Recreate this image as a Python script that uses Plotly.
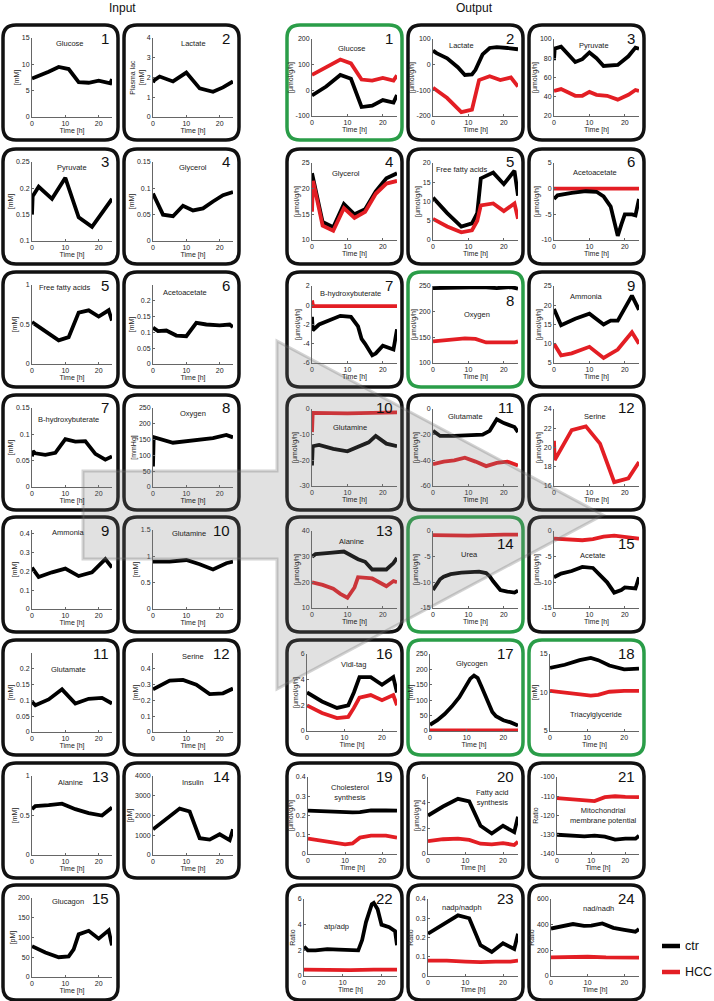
import plotly.graph_objects as go

W, H = 714, 1001
CTR = '#000000'
HCC = '#e31e24'
BOX_BLACK = '#111111'
BOX_GREEN = '#2a9d48'
FONT = 'Arial, Liberation Sans, Helvetica, sans-serif'
UMOL = '[µmol/g/h]'

# ---------------- Input (plasma) data ----------------
i_glucose_t = [0, 3, 5, 8, 11, 14, 17, 20, 23, 23.5, 24]
i_glucose = [7.3, 8.0, 8.6, 9.5, 9.1, 6.6, 6.5, 6.9, 6.4, 6.4, 7.2]
i_lactate_t = [0, 0.3, 2, 6, 10, 14, 18, 21, 24]
i_lactate = [1.75, 1.85, 2.05, 1.8, 2.25, 1.45, 1.28, 1.5, 1.8]
i_pyruvate_t = [0, 0.2, 2, 6, 10, 14, 18, 24]
i_pyruvate = [0.15, 0.185, 0.203, 0.18, 0.22, 0.145, 0.127, 0.18]
i_glycerol_t = [0, 3, 6, 9, 12, 15, 18, 21, 24]
i_glycerol = [0.09, 0.05, 0.047, 0.067, 0.058, 0.062, 0.075, 0.087, 0.093]
i_ffa_t = [0, 4, 8, 11, 14, 17, 20, 23, 24]
i_ffa = [0.53, 0.42, 0.3, 0.34, 0.65, 0.68, 0.6, 0.68, 0.55]
i_acetoacetate_t = [0, 1.5, 4, 7, 10, 13, 16, 20, 23, 24]
i_acetoacetate = [0.115, 0.104, 0.106, 0.09, 0.088, 0.13, 0.125, 0.122, 0.125, 0.117]
i_bhb_t = [0, 0.3, 1, 4, 7, 10, 13, 16, 19, 22, 24]
i_bhb = [0.058, 0.068, 0.064, 0.061, 0.065, 0.091, 0.086, 0.087, 0.063, 0.052, 0.058]
i_oxygen_t = [0, 0.2, 6, 12, 18, 22, 24]
i_oxygen = [65, 158, 140, 147, 155, 165, 157]
i_ammonia_t = [0, 2, 6, 10, 14, 18, 22, 24]
i_ammonia = [0.22, 0.17, 0.195, 0.215, 0.175, 0.195, 0.265, 0.22]
i_glutamine_t = [0, 5, 10, 14, 18, 22, 24]
i_glutamine = [0.9, 0.9, 0.93, 0.85, 0.75, 0.87, 0.9]
i_glutamate_t = [0, 1, 5, 9, 13, 17, 21, 24]
i_glutamate = [0.095, 0.085, 0.103, 0.135, 0.09, 0.105, 0.108, 0.09]
i_serine_t = [0, 2, 5, 9, 13, 17, 21, 24]
i_serine = [0.27, 0.29, 0.325, 0.33, 0.3, 0.24, 0.245, 0.275]
i_alanine_t = [0, 1, 5, 9, 13, 17, 21, 24]
i_alanine = [0.58, 0.62, 0.63, 0.65, 0.58, 0.53, 0.5, 0.6]
i_insulin_t = [0, 4, 8, 11, 14, 17, 20, 23, 24]
i_insulin = [1300, 1800, 2350, 2200, 850, 780, 1050, 750, 1300]
i_glucagon_t = [0, 4, 8, 11, 12.5, 14, 17, 20, 23, 24]
i_glucagon = [78, 62, 50, 52, 70, 108, 117, 97, 118, 80]

# ---------------- Output (liver) data: ctr / HCC ----------------
o_glucose_t = [0, 4, 8, 11, 14, 17, 20, 23, 24]
o_glucose_ctr = [-20, 15, 60, 45, -65, -60, -38, -48, -18]
o_glucose_hcc = [60, 90, 120, 105, 42, 38, 48, 38, 58]
o_lactate_ct = [0, 1, 4, 7, 9, 11, 12, 14, 16, 18, 21, 24]
o_lactate_ctr = [55, 45, 25, -10, -40, -38, -20, 40, 65, 68, 65, 60]
o_lactate_ht = [0, 4, 8, 11, 13, 16, 19, 22, 24]
o_lactate_hcc = [-90, -130, -185, -175, -60, -45, -60, -50, -85]
o_pyruvate_ct = [0, 0.2, 2, 6, 8, 10, 12, 14, 18, 21, 23, 24]
o_pyruvate_ctr = [78, 90, 92, 76, 79, 86, 80, 72, 73, 82, 91, 90]
o_pyruvate_ht = [0, 2, 6, 8, 10, 12, 15, 18, 21, 23, 24]
o_pyruvate_hcc = [46, 48, 41, 41, 45, 42, 41, 37, 42, 47, 46]
o_glycerol_ct = [0, 3, 6, 9, 12, 15, 18, 21, 24]
o_glycerol_ctr = [23, 13.5, 12.5, 17, 15, 16, 19.5, 22, 23]
o_glycerol_ht = [0, 0.3, 3, 6, 9, 12, 15, 18, 21, 24]
o_glycerol_hcc = [15.5, 21.5, 12.8, 11.8, 16.2, 14.3, 15.5, 19, 21, 21.5]
o_ffa_t = [0, 4, 8, 11, 12.5, 13.5, 17, 20, 23, 24]
o_ffa_ctr = [11, 7, 3.5, 4.3, 7, 16, 17.5, 14.5, 18, 11.5]
o_ffa_hcc = [5.5, 3.5, 2, 2.5, 5, 9, 9.5, 7.5, 9.5, 5.5]
o_acetoacetate_ct = [0, 1, 5, 9, 12, 14, 16, 17, 18, 19, 20, 22, 23, 24]
o_acetoacetate_ctr = [-2, -1.3, -0.8, -0.5, -0.6, -1.5, -3.5, -6.5, -9.2, -7, -5, -5, -5.2, -2]
o_acetoacetate_ht = [0, 24]
o_acetoacetate_hcc = [0, 0]
o_bhb_ct = [0, 0.2, 2, 5, 8, 11, 13, 14, 15, 17, 18, 20, 23, 24]
o_bhb_ctr = [-1.2, -2.6, -2, -1.5, -1.1, -1.2, -2.2, -3.5, -4, -5.2, -5, -4.2, -4.6, -2.5]
o_bhb_ht = [0, 0.3, 10, 24]
o_bhb_hcc = [0.5, -0.1, -0.1, -0.1]
o_oxygen_ct = [0, 6, 10, 14, 18, 22, 24]
o_oxygen_ctr = [246, 247, 247, 248, 246, 248, 245]
o_oxygen_ht = [0, 5, 9, 12, 15, 20, 23, 24]
o_oxygen_hcc = [142, 145, 148, 147, 140, 140, 140, 142]
o_ammonia_ct = [0, 2, 6, 10, 14, 16, 18, 22, 24]
o_ammonia_ctr = [19, 14.8, 16.5, 17.8, 15, 16, 16, 22.5, 18.8]
o_ammonia_ht = [0, 2, 5, 10, 14, 18, 22, 24]
o_ammonia_hcc = [10, 7, 7.5, 9.2, 6.3, 8.5, 13, 10]
o_glutamine_ct = [0, 0.2, 2, 6, 10, 14, 16, 18, 21, 24]
o_glutamine_ctr = [-22, -14.5, -14, -15.5, -16.5, -14, -13, -10.5, -13.5, -14.5]
o_glutamine_ht = [0, 0.2, 10, 24]
o_glutamine_hcc = [-9, -1.5, -1.7, -1.3]
o_glutamate_ct = [0, 2, 6, 10, 14, 16, 18, 20, 23, 24]
o_glutamate_ctr = [-17, -21, -21, -20.5, -20, -17, -8, -11, -14, -18]
o_glutamate_ht = [0, 3, 6, 9, 12, 15, 18, 21, 24]
o_glutamate_hcc = [-43, -41, -40, -38, -41, -44.5, -42, -41, -44]
o_serine_t = [0, 0.2, 5, 9, 13, 17, 21, 24]
o_serine_hcc = [20.7, 18.7, 21.8, 22.2, 20.4, 16.4, 16.8, 18.5]
o_alanine_ct = [0, 1, 5, 9, 13, 15, 17, 19, 21, 23, 24]
o_alanine_ctr = [30, 31, 31.5, 32, 29, 28, 25, 25, 25, 27.5, 29.5]
o_alanine_ht = [0, 3, 6, 8, 10, 12, 13, 17, 21, 23, 24]
o_alanine_hcc = [20, 19, 17.5, 15.5, 14, 18, 22, 21.5, 18.5, 20.5, 20]
o_urea_ct = [0, 1, 2, 3, 5, 8, 13, 15, 16, 17, 18, 19, 21, 23, 24]
o_urea_ctr = [-11.5, -10.3, -9.4, -8.9, -8.4, -8.1, -7.9, -8.2, -8.8, -9.8, -10.8, -11.5, -11.8, -12, -11.6]
o_urea_ht = [0, 10, 20, 24]
o_urea_hcc = [-0.8, -0.9, -0.7, -0.7]
o_acetate_ct = [0, 2, 5, 8, 11, 13, 15, 17, 19, 20, 23, 24]
o_acetate_ctr = [-9, -8.3, -7.8, -7, -7.2, -8.5, -10, -12, -11.5, -11, -11.2, -9]
o_acetate_ht = [0, 4, 8, 11, 14, 17, 20, 24]
o_acetate_hcc = [-1.5, -1.7, -1.8, -1.6, -1.1, -0.9, -1.2, -1.5]
o_vldl_t = [0, 4, 8, 11, 12.5, 14, 17, 20, 23, 24]
o_vldl_ctr = [3, 2.3, 1.8, 2, 3, 4.2, 4.2, 3.6, 4.2, 3]
o_vldl_hcc = [2, 1.4, 1, 1.1, 1.8, 2.6, 2.8, 2.4, 2.8, 2]
o_glycogen_ct = [0, 2, 4, 6, 8, 10, 11, 12, 13, 14, 15, 16, 17, 18, 20, 22, 24]
o_glycogen_ctr = [20, 35, 55, 80, 110, 150, 170, 180, 172, 145, 115, 85, 62, 48, 35, 28, 18]
o_glycogen_ht = [0, 24]
o_glycogen_hcc = [2, 2]
o_tag_t = [0, 4, 8, 11, 13, 16, 20, 24]
o_tag_ctr = [13.2, 13.6, 14.2, 14.5, 14.2, 13.5, 13, 13.1]
o_tag_hcc = [10.2, 10, 9.7, 9.6, 9.7, 10.1, 10.2, 10.2]
o_chol_t = [0, 5, 10, 12, 14, 17, 21, 24]
o_chol_ctr = [0.225, 0.22, 0.215, 0.216, 0.218, 0.226, 0.226, 0.225]
o_chol_hcc = [0.08, 0.065, 0.05, 0.055, 0.085, 0.095, 0.095, 0.085]
o_fas_t = [0, 4, 8, 11, 14, 17, 20, 23, 24]
o_fas_ctr = [3, 3.7, 4.3, 4.1, 2.2, 1.6, 2.2, 1.7, 2.9]
o_fas_hcc = [1, 1.15, 1.2, 1.1, 0.8, 0.75, 0.85, 0.7, 0.95]
o_mmp_t = [0, 4, 8, 11, 14, 17, 20, 23, 24]
o_mmp_ctr = [-130, -130.3, -130.8, -130.5, -131, -132.5, -132, -132, -130.5]
o_mmp_hcc = [-111, -111.5, -112.5, -112.5, -110.5, -110, -110.3, -110.5, -110.5]
o_atp_ct = [0, 1, 3, 6, 9, 12, 14, 15, 16, 17.5, 18, 19, 20, 22, 23.5, 24]
o_atp_ctr = [2.3, 2, 2, 2.1, 2.05, 2, 2, 2.8, 4.2, 5.6, 5.7, 5.2, 4, 3.8, 3.5, 2.4]
o_atp_ht = [0, 12, 18, 24]
o_atp_hcc = [0.5, 0.45, 0.5, 0.5]
o_nadp_ct = [0, 4, 8, 11, 14, 17, 20, 23, 24]
o_nadp_ctr = [0.22, 0.27, 0.315, 0.3, 0.16, 0.125, 0.17, 0.14, 0.22]
o_nadp_ht = [0, 5, 10, 14, 18, 22, 24]
o_nadp_hcc = [0.08, 0.08, 0.075, 0.072, 0.075, 0.075, 0.08]
o_nad_ct = [0, 3, 6, 9, 11, 14, 17, 20, 23, 24]
o_nad_ctr = [370, 390, 405, 390, 392, 410, 375, 360, 345, 365]
o_nad_ht = [0, 5, 10, 15, 20, 24]
o_nad_hcc = [145, 150, 150, 145, 143, 143]

legend_names = ['ctr', 'HCC']

# panel definitions: title, y label, y range, y ticks, series
inputs = [
    ('Glucose', '[mM]', [0, 15], [0, 5, 10, 15], [(i_glucose_t, i_glucose)]),
    ('Lactate', 'Plasma lac<br>[mM]', [0, 4], [0, 1, 2, 3, 4], [(i_lactate_t, i_lactate)]),
    ('Pyruvate', '[mM]', [0.1, 0.25], [0.1, 0.15, 0.2, 0.25], [(i_pyruvate_t, i_pyruvate)]),
    ('Glycerol', '[mM]', [0, 0.15], [0, 0.05, 0.1, 0.15], [(i_glycerol_t, i_glycerol)]),
    ('Free fatty acids', '[mM]', [0, 1], [0, 0.5, 1], [(i_ffa_t, i_ffa)]),
    ('Acetoacetate', '[mM]', [0, 0.25], [0, 0.05, 0.1, 0.15, 0.2], [(i_acetoacetate_t, i_acetoacetate)]),
    ('B-hydroxybuterate', '[mM]', [0, 0.15], [0, 0.05, 0.1, 0.15], [(i_bhb_t, i_bhb)]),
    ('Oxygen', '[mmHg]', [0, 250], [0, 50, 100, 150, 200, 250], [(i_oxygen_t, i_oxygen)]),
    ('Ammonia', '[mM]', [0, 0.42], [0, 0.1, 0.2, 0.3, 0.4], [(i_ammonia_t, i_ammonia)]),
    ('Glutamine', '[mM]', [0, 1.5], [0, 0.5, 1, 1.5], [(i_glutamine_t, i_glutamine)]),
    ('Glutamate', '[mM]', [0, 0.25], [0, 0.05, 0.1, 0.15, 0.2], [(i_glutamate_t, i_glutamate)]),
    ('Serine', '[mM]', [0, 0.5], [0, 0.1, 0.2, 0.3, 0.4], [(i_serine_t, i_serine)]),
    ('Alanine', '[mM]', [0, 1], [0, 0.5, 1], [(i_alanine_t, i_alanine)]),
    ('Insulin', '[pM]', [0, 4000], [0, 1000, 2000, 3000, 4000], [(i_insulin_t, i_insulin)]),
    ('Glucagon', '[pM]', [0, 200], [0, 50, 100, 150, 200], [(i_glucagon_t, i_glucagon)]),
]
in_title_pos = [(0.48, 0.93), (0.5, 0.93), (0.5, 0.93), (0.5, 0.93), (0.41, 0.97),
                (0.4, 0.9), (0.45, 0.86), (0.5, 0.93), (0.45, 0.97), (0.45, 0.95),
                (0.45, 0.79), (0.5, 0.95), (0.48, 0.92), (0.5, 0.92), (0.45, 0.95)]

outputs = [
    ('Glucose', UMOL, [-100, 200], [-100, 0, 100, 200],
     [(o_glucose_t, o_glucose_ctr, 'ctr'), (o_glucose_t, o_glucose_hcc, 'HCC')]),
    ('Lactate', UMOL, [-200, 100], [-200, -100, 0, 100],
     [(o_lactate_ct, o_lactate_ctr, 'ctr'), (o_lactate_ht, o_lactate_hcc, 'HCC')]),
    ('Pyruvate', UMOL, [20, 100], [20, 40, 60, 80, 100],
     [(o_pyruvate_ct, o_pyruvate_ctr, 'ctr'), (o_pyruvate_ht, o_pyruvate_hcc, 'HCC')]),
    ('Glycerol', UMOL, [10, 25], [10, 15, 20, 25],
     [(o_glycerol_ct, o_glycerol_ctr, 'ctr'), (o_glycerol_ht, o_glycerol_hcc, 'HCC')]),
    ('Free fatty acids', UMOL, [0, 20], [0, 5, 10, 15, 20],
     [(o_ffa_t, o_ffa_ctr, 'ctr'), (o_ffa_t, o_ffa_hcc, 'HCC')]),
    ('Acetoacetate', UMOL, [-10, 5], [-10, -5, 0, 5],
     [(o_acetoacetate_ht, o_acetoacetate_hcc, 'HCC'), (o_acetoacetate_ct, o_acetoacetate_ctr, 'ctr')]),
    ('B-hydroxybuterate', UMOL, [-6, 2], [-6, -4, -2, 0, 2],
     [(o_bhb_ct, o_bhb_ctr, 'ctr'), (o_bhb_ht, o_bhb_hcc, 'HCC')]),
    ('Oxygen', UMOL, [100, 250], [100, 150, 200, 250],
     [(o_oxygen_ct, o_oxygen_ctr, 'ctr'), (o_oxygen_ht, o_oxygen_hcc, 'HCC')]),
    ('Ammonia', UMOL, [5, 25], [5, 10, 15, 20, 25],
     [(o_ammonia_ct, o_ammonia_ctr, 'ctr'), (o_ammonia_ht, o_ammonia_hcc, 'HCC')]),
    ('Glutamine', UMOL, [-30, 0], [-30, -20, -10, 0],
     [(o_glutamine_ct, o_glutamine_ctr, 'ctr'), (o_glutamine_ht, o_glutamine_hcc, 'HCC')]),
    ('Glutamate', UMOL, [-60, 0], [-60, -40, -20, 0],
     [(o_glutamate_ct, o_glutamate_ctr, 'ctr'), (o_glutamate_ht, o_glutamate_hcc, 'HCC')]),
    ('Serine', UMOL, [16, 24], [16, 18, 20, 22, 24],
     [(o_serine_t, o_serine_hcc, 'HCC')]),
    ('Alanine', UMOL, [10, 40], [10, 20, 30, 40],
     [(o_alanine_ct, o_alanine_ctr, 'ctr'), (o_alanine_ht, o_alanine_hcc, 'HCC')]),
    ('Urea', UMOL, [-15, 0], [-15, -10, -5, 0],
     [(o_urea_ct, o_urea_ctr, 'ctr'), (o_urea_ht, o_urea_hcc, 'HCC')]),
    ('Acetate', UMOL, [-15, 0], [-15, -10, -5, 0],
     [(o_acetate_ct, o_acetate_ctr, 'ctr'), (o_acetate_ht, o_acetate_hcc, 'HCC')]),
    ('Vldl-tag', UMOL, [0, 6], [0, 2, 4, 6],
     [(o_vldl_t, o_vldl_ctr, 'ctr'), (o_vldl_t, o_vldl_hcc, 'HCC')]),
    ('Glycogen', '[mM]', [0, 250], [0, 50, 100, 150, 200, 250],
     [(o_glycogen_ht, o_glycogen_hcc, 'HCC'), (o_glycogen_ct, o_glycogen_ctr, 'ctr')]),
    ('Triacylglyceride', '[mM]', [5, 15], [5, 10, 15],
     [(o_tag_t, o_tag_ctr, 'ctr'), (o_tag_t, o_tag_hcc, 'HCC')]),
    ('Cholesterol<br>synthesis', UMOL, [0, 0.4], [0, 0.1, 0.2, 0.3, 0.4],
     [(o_chol_t, o_chol_ctr, 'ctr'), (o_chol_t, o_chol_hcc, 'HCC')]),
    ('Fatty acid<br>synthesis', UMOL, [0, 6], [0, 2, 4, 6],
     [(o_fas_t, o_fas_ctr, 'ctr'), (o_fas_t, o_fas_hcc, 'HCC')]),
    ('Mitochondrial<br>membrane potential', 'Ratio', [-140, -100], [-140, -130, -120, -110, -100],
     [(o_mmp_t, o_mmp_ctr, 'ctr'), (o_mmp_t, o_mmp_hcc, 'HCC')]),
    ('atp/adp', 'Ratio', [0, 6], [0, 2, 4, 6],
     [(o_atp_ct, o_atp_ctr, 'ctr'), (o_atp_ht, o_atp_hcc, 'HCC')]),
    ('nadp/nadph', 'Ratio', [0, 0.4], [0, 0.1, 0.2, 0.3, 0.4],
     [(o_nadp_ct, o_nadp_ctr, 'ctr'), (o_nadp_ht, o_nadp_hcc, 'HCC')]),
    ('nad/nadh', 'Ratio', [0, 600], [0, 200, 400, 600],
     [(o_nad_ct, o_nad_ctr, 'ctr'), (o_nad_ht, o_nad_hcc, 'HCC')]),
]
out_title_pos = [(0.47, 0.88), (0.33, 0.91), (0.47, 0.92), (0.4, 0.87), (0.34, 0.92), (0.48, 0.88),
                 (0.45, 0.9), (0.52, 0.63), (0.38, 0.86), (0.45, 0.76), (0.38, 0.9), (0.48, 0.9),
                 (0.46, 0.87), (0.43, 0.69), (0.45, 0.68), (0.52, 0.87), (0.48, 0.88), (0.52, 0.22),
                 (0.47, 0.8), (0.72, 0.74), (0.57, 0.5), (0.35, 0.64), (0.38, 0.89), (0.54, 0.88)]
green_boxes = {1, 8, 14, 17, 18}
number_drop = {8: 15, 14: 13, 15: 13}
out_left = {16: 20, 17: 22, 18: 21, 19: 21, 20: 20, 21: 28, 22: 17, 23: 20, 24: 22}

# grid of boxes (pixels)
ROW_TOP = [25, 149, 272, 395, 517, 640, 763, 885]
IN_COL = [3, 124]
OUT_COL = [287, 408, 529]
BOX = 115


def px(x):
    return x / W


def py(y):
    return 1 - y / H


def rounded_box(x0, y0, x1, y1, r=13):
    pts = [('M', [(x0 + r, y0)]), ('L', [(x1 - r, y0)]), ('Q', [(x1, y0), (x1, y0 + r)]),
           ('L', [(x1, y1 - r)]), ('Q', [(x1, y1), (x1 - r, y1)]), ('L', [(x0 + r, y1)]),
           ('Q', [(x0, y1), (x0, y1 - r)]), ('L', [(x0, y0 + r)]), ('Q', [(x0, y0), (x0 + r, y0)])]
    s = ''
    for cmd, pp in pts:
        s += cmd + ' ' + ' '.join(f'{px(a):.5f},{py(b):.5f}' for a, b in pp) + ' '
    return s + 'Z'


def tick_txt(v):
    return f'{v:g}'


fig = go.Figure()
shapes, annotations = [], []
layout_axes = {}

TXT = dict(size=7, color='#222222', family=FONT)


def add_panel(k, bx, by, margins, title, tpos, ylabel, yrange, yticks, series, number, green, drop):
    ml, mr, mt, mb = margins
    sid = '' if k == 1 else str(k)
    for s in series:
        t, y = s[0], s[1]
        name = s[2] if len(s) > 2 else 'ctr'
        fig.add_trace(go.Scatter(
            x=t, y=y, mode='lines', name=name, showlegend=False,
            line=dict(color=CTR if name == 'ctr' else HCC, width=3.8),
            xaxis='x' + sid, yaxis='y' + sid,
        ))
    axis_common = dict(showline=True, linecolor='#666666', linewidth=1, ticks='inside', ticklen=2,
                       tickcolor='#666666', showgrid=False, zeroline=False, tickfont=TXT)
    layout_axes['xaxis' + sid] = dict(
        axis_common, domain=[px(bx + ml), px(bx + BOX - mr)], anchor='y' + sid,
        range=[0, 24], tickvals=[0, 10, 20], ticktext=['0', '10', '20'],
        title=dict(text='Time [h]', font=TXT, standoff=1))
    layout_axes['yaxis' + sid] = dict(
        axis_common, domain=[py(by + BOX - mb), py(by + mt)], anchor='x' + sid,
        range=yrange, tickvals=yticks, ticktext=[tick_txt(v) for v in yticks],
        title=dict(text=ylabel, font=TXT, standoff=1))
    annotations.append(dict(
        text=title, x=tpos[0], y=tpos[1], xref=f'x{sid} domain', yref=f'y{sid} domain',
        showarrow=False, font=dict(size=7.5, color='#222222', family=FONT), xanchor='center',
        yanchor='middle'))
    annotations.append(dict(
        text=str(number), x=px(bx + BOX - 7), y=py(by + 13 + drop), xref='paper', yref='paper',
        showarrow=False, font=dict(size=15, color='#111111', family=FONT), xanchor='right',
        yanchor='middle'))
    shapes.append(dict(type='path', path=rounded_box(bx, by, bx + BOX, by + BOX), xref='paper',
                       yref='paper', line=dict(color=BOX_GREEN if green else BOX_BLACK, width=3.5),
                       layer='below'))


k = 1
for i, (title, ylab, yr, yt, ser) in enumerate(inputs):
    bx = IN_COL[i % 2]
    by = ROW_TOP[i // 2]
    add_panel(k, bx, by, (29, 6, 13, 23), title, in_title_pos[i], ylab, yr, yt, ser, i + 1, False, 0)
    k += 1

for i, (title, ylab, yr, yt, ser) in enumerate(outputs):
    n = i + 1
    bx = OUT_COL[i % 3]
    by = ROW_TOP[i // 3]
    add_panel(k, bx, by, (out_left.get(n, 25), 5, 14, 24), title, out_title_pos[i], ylab, yr, yt,
              ser, n, n in green_boxes, number_drop.get(n, 0))
    k += 1

# big translucent arrow (input -> output)
arrow_pts = [(83, 471), (277, 471), (277, 341), (603, 515), (277, 689), (277, 559), (83, 559)]
arrow_path = 'M ' + ' L '.join(f'{px(a):.5f},{py(b):.5f}' for a, b in arrow_pts) + ' Z'
shapes.append(dict(type='path', path=arrow_path, xref='paper', yref='paper', layer='above',
                   fillcolor='rgba(128,128,128,0.24)', line=dict(color='rgba(110,110,110,0.3)', width=3)))

# legend drawn as key lines + labels
for j, name in enumerate(legend_names):
    yy = py(946 + 26 * j)
    shapes.append(dict(type='line', xref='paper', yref='paper', x0=px(662), x1=px(680), y0=yy, y1=yy,
                       line=dict(color=CTR if name == 'ctr' else HCC, width=4.5)))
    annotations.append(dict(text=name, x=px(683), y=yy, xref='paper', yref='paper', showarrow=False,
                            xanchor='left', yanchor='middle',
                            font=dict(size=12.5, color='#111111', family=FONT)))

for label, cx in (('Input', 122), ('Output', 474)):
    annotations.append(dict(text=label, x=px(cx), y=py(8), xref='paper', yref='paper',
                            showarrow=False, xanchor='center', yanchor='middle',
                            font=dict(size=12, color='#111111', family=FONT)))

fig.update_layout(
    width=W, height=H, margin=dict(l=0, r=0, t=0, b=0),
    template='none', paper_bgcolor='white', plot_bgcolor='rgba(0,0,0,0)',
    font=dict(family=FONT, color='#111111'),
    shapes=shapes, annotations=annotations, showlegend=False,
    **layout_axes,
)

# the page body has a default 8px margin; drop it so the figure fills the window
fig.write_html('out.html', config={'displayModeBar': False},
               post_script="document.body.style.margin='0px';")
